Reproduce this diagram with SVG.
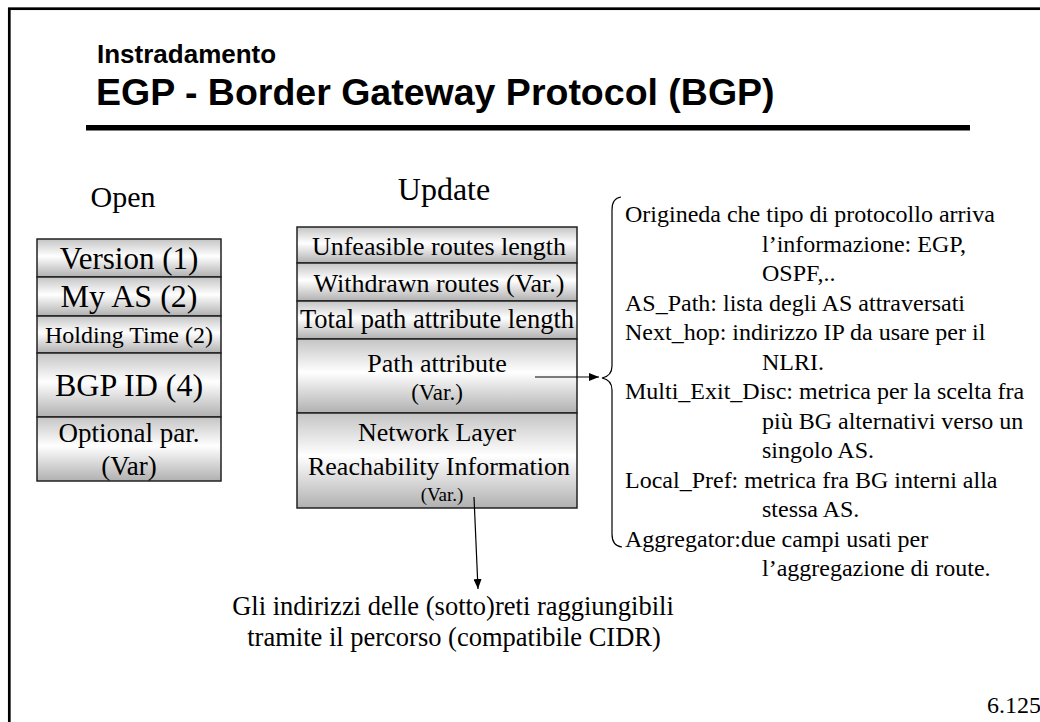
<svg xmlns="http://www.w3.org/2000/svg" width="1040" height="722" viewBox="0 0 1040 722">
<style>
.t{font-family:"Liberation Serif","Times New Roman",serif;fill:#000}
.h{font-family:"Liberation Sans",Arial,sans-serif;font-weight:bold;fill:#000}
.c{text-anchor:middle}
.cell{fill:url(#cg);stroke:#222;stroke-width:1.5}
.ln{stroke:#000;stroke-width:1.2;fill:none}
</style>
<defs>
<linearGradient id="cg" x1="0" y1="0" x2="0" y2="1">
<stop offset="0" stop-color="#c4c4c4"/>
<stop offset="0.45" stop-color="#ffffff"/>
<stop offset="1" stop-color="#b0b0b0"/>
</linearGradient>
<marker id="ah" markerUnits="userSpaceOnUse" markerWidth="10" markerHeight="8" refX="10" refY="4" orient="auto">
<path d="M0,0 L10,4 L0,8 z" fill="#000"/>
</marker>
</defs>
<rect x="0" y="0" width="1040" height="722" fill="#fff"/>
<rect x="9.3" y="8.7" width="1100" height="800" fill="none" stroke="#000" stroke-width="2.7"/>
<g id="title">
<text class="h" x="97" y="63" font-size="26">Instradamento</text>
<text class="h" x="96" y="105" font-size="37.5">EGP - Border Gateway Protocol (BGP)</text>
<rect x="86" y="125" width="884" height="5.5" fill="#000"/>
</g>
<g id="open">
<text class="t c" x="123" y="207" font-size="30">Open</text>
<g id="open-version"><rect class="cell" x="37" y="239" width="184" height="38"/><text class="t c" x="129" y="269" font-size="31">Version (1)</text></g>
<g id="open-myas"><rect class="cell" x="37" y="277" width="184" height="39"/><text class="t c" x="129" y="307" font-size="32">My AS (2)</text></g>
<g id="open-holding"><rect class="cell" x="37" y="316" width="184" height="37"/><text class="t c" x="129" y="343" font-size="24">Holding Time (2)</text></g>
<g id="open-bgpid"><rect class="cell" x="37" y="353" width="184" height="64"/><text class="t c" x="129" y="396" font-size="32">BGP ID (4)</text></g>
<g id="open-optional"><rect class="cell" x="37" y="417" width="184" height="64"/><text class="t c" x="129" y="442" font-size="27">Optional par.</text><text class="t c" x="129" y="475" font-size="27">(Var)</text></g>
</g>
<g id="update">
<text class="t c" x="444" y="200" font-size="32">Update</text>
<g id="upd-unfeasible"><rect class="cell" x="297" y="227" width="280" height="36"/><text class="t c" x="439" y="255" font-size="26">Unfeasible routes length</text></g>
<g id="upd-withdrawn"><rect class="cell" x="297" y="263" width="280" height="38"/><text class="t c" x="439" y="292" font-size="26">Withdrawn routes (Var.)</text></g>
<g id="upd-total"><rect class="cell" x="297" y="301" width="280" height="38"/><text class="t c" x="437" y="328" font-size="26.5">Total path attribute length</text></g>
<g id="upd-path"><rect class="cell" x="297" y="339" width="280" height="74"/><text class="t c" x="437" y="372" font-size="26">Path attribute</text><text class="t c" x="437" y="400" font-size="23">(Var.)</text></g>
<g id="upd-nlri"><rect class="cell" x="297" y="413" width="280" height="95"/><text class="t c" x="437" y="441" font-size="26">Network Layer</text><text class="t c" x="439" y="475" font-size="26">Reachability Information</text><text class="t c" x="442" y="501" font-size="19">(Var.)</text></g>
</g>
<g id="connectors">
<line class="ln" x1="535" y1="377" x2="599" y2="377" marker-end="url(#ah)"/>
<line class="ln" x1="474" y1="497" x2="478" y2="589" marker-end="url(#ah)"/>
<path class="ln" d="M621 197 Q612 198 612 210 L612 366 Q612 376 602 378 Q612 380 612 390 L612 534 Q612 546 622 547"/>
</g>
<g id="attributes">
<text class="t" font-size="24">
<tspan x="625" y="222">Origineda che tipo di protocollo arriva</tspan>
<tspan x="762" y="251.5">l’informazione: EGP,</tspan>
<tspan x="762" y="281">OSPF,..</tspan>
<tspan x="625" y="310.5">AS_Path: lista degli AS attraversati</tspan>
<tspan x="625" y="340">Next_hop: indirizzo IP da usare per il</tspan>
<tspan x="762" y="369.5">NLRI.</tspan>
<tspan x="625" y="399">Multi_Exit_Disc: metrica per la scelta fra</tspan>
<tspan x="762" y="428.5">più BG alternativi verso un</tspan>
<tspan x="762" y="458">singolo AS.</tspan>
<tspan x="625" y="487.5">Local_Pref: metrica fra BG interni alla</tspan>
<tspan x="762" y="517">stessa AS.</tspan>
<tspan x="625" y="546.5">Aggregator:due campi usati per</tspan>
<tspan x="762" y="576">l’aggregazione di route.</tspan>
</text>
</g>
<g id="nlri-note">
<text class="t c" font-size="26.5"><tspan x="453" y="615">Gli indirizzi delle (sotto)reti raggiungibili</tspan><tspan x="454" y="646">tramite il percorso (compatibile CIDR)</tspan></text>
</g>
<text class="t" x="987" y="713" font-size="24">6.125</text>
</svg>
